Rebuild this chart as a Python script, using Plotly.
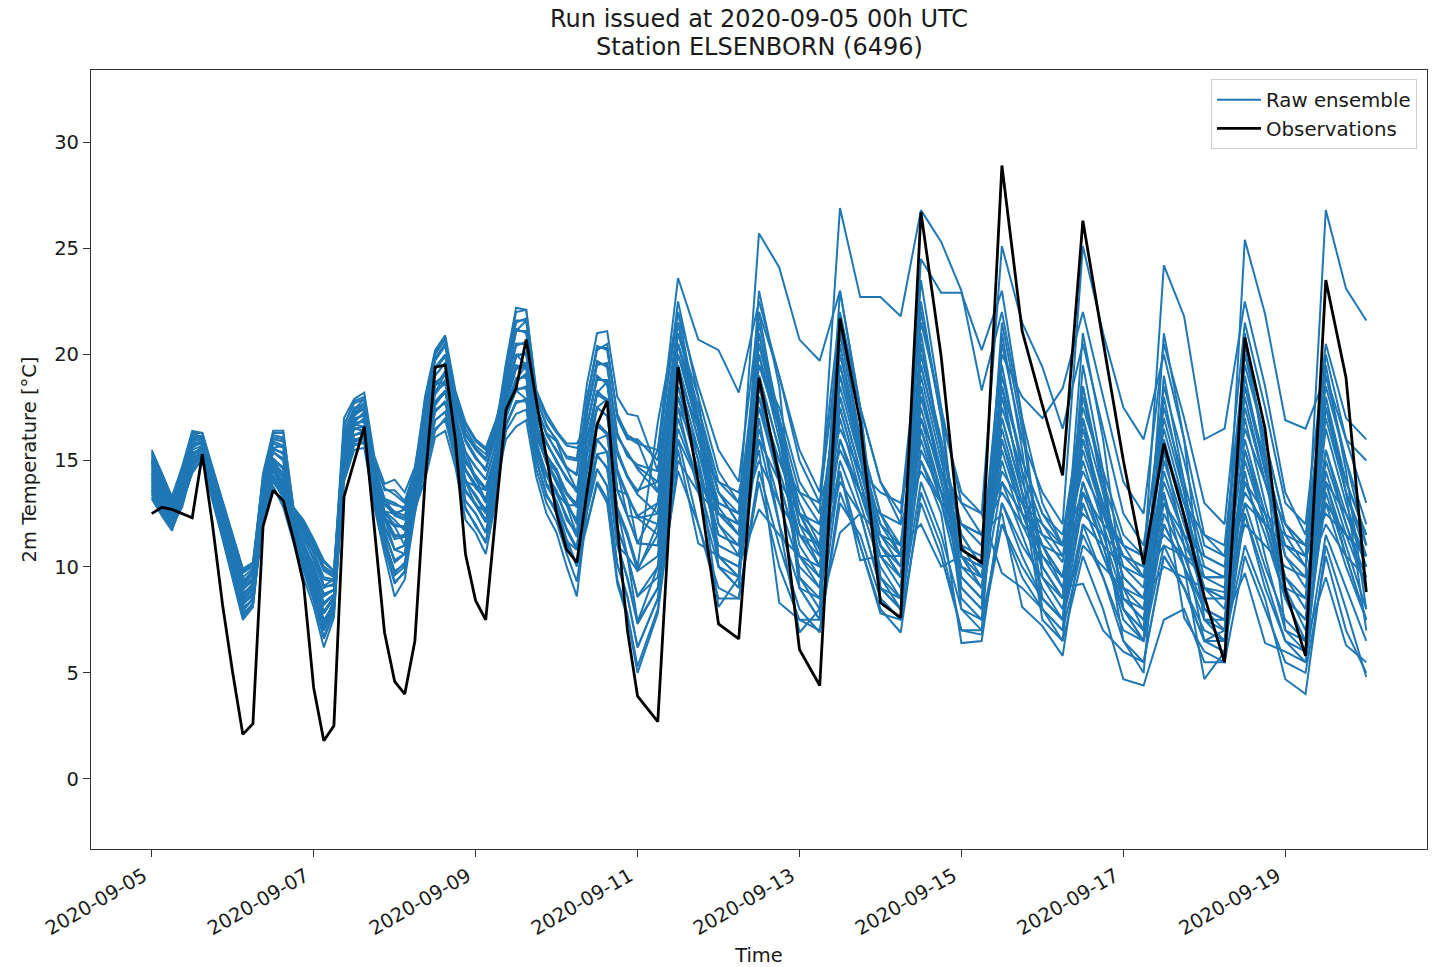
import pandas as pd
import plotly.graph_objects as go

RUN_START = pd.Timestamp("2020-09-05 00:00")

# Forecast lead times [h]: 3-hourly up to day 6, 6-hourly afterwards
lead_hours = list(range(0, 145, 3)) + list(range(150, 361, 6))

# Observed 2 m temperature at the station [°C]
observations = [
    12.5, 12.8, 12.7, 12.5, 12.3, 15.3, 12.0, 8.2, 5.0, 2.1, 2.6,
    11.9, 13.6, 13.1, 11.3, 9.2, 4.3, 1.8, 2.5,
    13.3, 15.0, 16.6, 11.8, 6.9, 4.6, 4.0, 6.5,
    14.0, 19.4, 19.5, 16.0, 10.6, 8.4, 7.5, 12.5,
    17.4, 18.4, 20.7, 17.8, 15.2, 12.5, 10.8, 10.2,
    13.5, 16.7, 17.8, 12.0, 7.0, 3.9,
    2.7,
    19.4, 14.0, 7.3, 6.6,
    18.9, 14.2, 6.1, 4.4,
    21.7, 16.8, 8.3, 7.6,
    26.7, 19.9, 10.8, 10.2,
    28.9, 21.1, 17.6, 14.3,
    26.3, 20.6, 15.0, 10.1,
    15.8, 12.4, 8.6, 5.5,
    20.8, 16.5, 8.9, 5.8,
    23.5, 18.9, 8.8,
]

# Raw ensemble members, 2 m temperature [°C]
member_01 = [
    14.4, 13.4, 12.7, 13.8, 15.4, 15.5, 13.9, 12.2, 10.7, 8.7, 9.2,
    13.4, 15.4, 15.0, 12.1, 11.1, 10.0, 8.7, 8.9,
    15.2, 16.5, 16.6, 13.8, 11.9, 10.8, 11.0, 13.4,
    16.1, 18.2, 18.7, 16.5, 14.5, 13.8, 13.1, 15.0,
    18.5, 20.5, 20.5, 17.1, 15.8, 15.0, 14.1, 13.6,
    15.9, 18.2, 17.9, 14.5, 13.4, 12.3,
    12.5,
    19.5, 16.0, 12.8, 11.5, 20.5, 17.0, 12.5, 10.8,
    19.0, 15.2, 12.0, 10.5, 20.0, 16.0, 11.5, 10.0,
    18.0, 14.0, 11.5, 10.2, 16.5, 12.8, 9.5, 8.5,
    15.0, 12.0, 9.0, 8.8, 18.5, 14.5, 10.5, 9.5,
    26.8, 23.1, 21.6,
]
member_02 = [
    13.7, 12.8, 12.0, 13.4, 14.8, 15.3, 13.4, 11.7, 9.6, 8.0, 8.5,
    12.7, 14.6, 13.9, 11.6, 10.3, 9.1, 7.4, 8.3,
    15.5, 16.7, 16.9, 14.0, 12.3, 11.4, 11.5, 13.6,
    16.8, 19.0, 19.6, 17.2, 15.4, 14.7, 14.1, 15.8,
    17.4, 18.8, 19.0, 15.8, 14.4, 13.5, 12.3, 11.5,
    13.9, 16.0, 15.4, 11.8, 10.5, 8.6,
    9.5,
    17.0, 14.0, 10.5, 10.0, 16.5, 13.0, 10.0, 9.0,
    16.0, 13.0, 10.0, 8.5, 15.0, 12.5, 6.4, 6.5,
    13.0, 11.0, 9.5, 8.0, 13.5, 11.0, 8.0, 7.0,
    12.5, 10.5, 8.0, 7.5, 14.0, 11.5, 8.5, 7.5,
    14.0, 11.0, 8.0,
]
member_03 = [
    15.0, 14.0, 12.8, 14.3, 16.0, 16.2, 14.4, 12.7, 11.2, 9.2, 9.8,
    13.7, 15.6, 15.3, 12.3, 11.4, 10.3, 9.1, 9.1,
    15.8, 16.9, 17.2, 14.2, 12.6, 11.9, 11.9, 13.8,
    15.7, 17.7, 18.2, 16.1, 14.0, 13.4, 12.6, 14.6,
    17.8, 19.4, 19.5, 16.3, 14.9, 14.0, 12.9, 12.2,
    17.3, 19.6, 19.5, 16.2, 15.3, 14.7,
    14.0,
    21.0, 18.0, 14.5, 13.0, 19.0, 15.5, 11.0, 9.5,
    17.5, 14.0, 11.0, 9.5, 18.0, 14.5, 10.5, 9.0,
    16.0, 13.0, 11.0, 9.5, 15.0, 12.0, 9.0, 8.0,
    14.0, 11.5, 8.5, 8.5, 25.4, 21.9, 16.9, 16.5,
    19.0, 15.0, 11.0,
]
member_04 = [
    13.2, 12.4, 11.7, 13.0, 14.4, 15.1, 13.1, 11.3, 9.4, 7.5, 8.1,
    12.5, 14.3, 13.5, 11.4, 10.0, 8.7, 7.0, 8.0,
    14.9, 16.2, 16.4, 13.5, 11.6, 10.3, 10.6, 13.2,
    16.4, 18.6, 19.1, 16.9, 15.0, 14.2, 13.6, 15.4,
    18.9, 21.1, 21.1, 17.5, 16.3, 15.4, 14.6, 14.4,
    17.9, 20.3, 20.3, 17.1, 16.2, 15.9,
    13.5,
    18.5, 15.0, 8.1, 9.5, 17.0, 12.0, 6.9, 8.0,
    11.6, 12.5, 9.0, 8.0, 16.5, 13.0, 9.0, 8.0,
    19.0, 15.0, 12.5, 11.0, 18.0, 14.0, 11.0, 9.5,
    17.0, 13.5, 10.0, 9.5, 17.0, 13.0, 9.5, 8.0,
    15.5, 12.0, 9.5,
]
member_05 = [
    15.5, 14.4, 13.3, 14.7, 16.4, 16.3, 14.7, 13.1, 11.6, 9.9, 10.2,
    14.2, 16.1, 16.0, 12.6, 11.9, 11.0, 9.9, 9.6,
    16.4, 17.4, 17.7, 14.7, 13.2, 13.0, 12.7, 14.3,
    17.2, 19.4, 20.0, 17.6, 15.9, 15.1, 14.6, 16.1,
    18.2, 20.0, 20.0, 16.7, 15.3, 14.5, 13.5, 12.9,
    15.3, 17.5, 17.1, 13.6, 12.4, 11.1,
    11.0,
    18.0, 14.5, 11.5, 11.0, 18.5, 14.5, 11.5, 10.0,
    18.0, 14.5, 11.5, 10.0, 19.0, 15.0, 11.0, 10.5,
    20.5, 16.0, 13.5, 12.0, 25.1, 21.0, 17.5, 16.0,
    20.0, 16.0, 11.5, 11.0, 20.0, 16.0, 12.0, 10.5,
    18.0, 14.0, 11.5,
]
member_06 = [
    14.1, 13.2, 12.3, 13.6, 15.2, 15.7, 13.7, 12.0, 10.3, 8.5, 8.9,
    13.2, 15.1, 14.6, 12.0, 10.9, 9.7, 8.3, 8.7,
    16.1, 17.2, 17.4, 14.5, 12.9, 12.5, 12.3, 14.0,
    17.6, 19.8, 20.5, 17.9, 16.3, 15.6, 15.1, 16.5,
    19.6, 22.2, 22.1, 18.3, 17.2, 16.4, 15.8, 15.8,
    16.6, 18.9, 18.7, 15.4, 14.3, 13.5,
    15.5,
    23.6, 20.7, 20.2, 18.2, 22.5, 19.0, 15.0, 13.0,
    21.0, 17.5, 14.0, 12.0, 21.5, 17.5, 13.0, 11.5,
    17.0, 13.5, 11.0, 9.0, 14.0, 11.5, 8.5, 7.5,
    13.0, 11.0, 9.5, 9.0, 16.0, 12.5, 9.0, 7.0,
    13.0, 10.0, 7.5,
]
member_07 = [
    14.6, 13.6, 12.7, 13.9, 15.8, 15.8, 14.1, 12.4, 10.7, 8.9, 9.4,
    13.0, 14.8, 14.2, 11.8, 10.6, 9.4, 7.8, 8.5,
    14.6, 16.0, 16.1, 13.3, 11.3, 9.7, 10.2, 12.9,
    15.3, 17.3, 17.8, 15.8, 13.6, 12.9, 12.1, 14.2,
    16.7, 17.7, 17.9, 15.0, 13.4, 12.6, 11.2, 10.0,
    12.6, 14.6, 13.8, 10.1, 8.6, 6.2,
    8.5,
    16.0, 14.0, 13.0, 12.5, 16.0, 14.0, 12.5, 12.0,
    15.5, 13.5, 12.5, 12.0, 14.5, 13.0, 12.0, 11.5,
    12.5, 8.1, 7.2, 5.8, 12.0, 11.0, 10.0, 9.5,
    11.0, 10.5, 9.5, 9.5, 13.0, 12.0, 11.0, 10.5,
    12.5, 11.5, 10.5,
]
member_08 = [
    13.9, 13.0, 12.2, 13.2, 15.0, 15.4, 13.6, 11.8, 10.1, 8.2, 8.7,
    12.2, 14.1, 13.2, 11.3, 9.8, 8.4, 6.6, 7.8,
    14.0, 15.5, 15.6, 12.8, 10.6, 8.6, 9.4, 12.5,
    14.9, 16.9, 17.3, 15.4, 13.1, 12.5, 11.6, 13.9,
    17.1, 18.3, 18.5, 15.4, 13.9, 13.0, 11.7, 10.8,
    14.6, 16.7, 16.2, 12.7, 11.4, 9.8,
    10.5,
    19.0, 16.5, 13.5, 12.0, 20.0, 16.0, 12.0, 11.0,
    20.0, 16.0, 12.5, 11.0, 18.5, 14.0, 10.0, 9.0,
    15.0, 12.0, 10.0, 8.5, 13.0, 10.5, 8.0, 7.0,
    12.0, 10.0, 8.0, 7.5, 9.7, 6.4, 6.0, 5.5,
    11.5, 9.0, 6.5,
]
member_09 = [
    14.8, 13.8, 13.0, 14.1, 15.8, 15.9, 14.2, 12.6, 10.9, 9.4, 9.6,
    13.9, 15.9, 15.7, 12.5, 11.7, 10.7, 9.5, 9.4,
    16.7, 17.7, 17.9, 15.0, 13.6, 13.6, 13.1, 14.5,
    17.2, 19.8, 20.5, 17.6, 15.9, 15.1, 14.6, 16.5,
    17.8, 20.0, 19.5, 16.7, 14.9, 14.5, 12.9, 12.9,
    13.2, 16.0, 16.2, 12.7, 10.5, 9.8,
    12.0,
    20.5, 17.0, 12.0, 10.5, 17.5, 14.0, 10.5, 9.0,
    17.0, 13.5, 10.5, 9.0, 17.0, 13.5, 9.5, 8.5,
    14.0, 11.5, 9.0, 7.5, 12.0, 9.5, 6.5, 5.5,
    10.5, 9.0, 6.5, 6.5, 12.5, 9.5, 6.5, 5.5,
    14.5, 11.5, 9.0,
]
member_10 = [
    15.3, 14.2, 13.1, 14.5, 16.2, 16.0, 14.5, 12.9, 11.4, 9.7, 10.0,
    14.4, 16.4, 16.4, 12.8, 12.2, 11.3, 10.3, 9.8,
    16.4, 17.2, 17.7, 14.5, 12.6, 12.5, 12.7, 14.0,
    15.7, 18.2, 19.1, 16.5, 14.0, 13.8, 13.6, 15.0,
    17.1, 18.8, 19.5, 15.8, 13.9, 13.5, 12.9, 11.5,
    13.2, 15.3, 14.6, 11.0, 9.5, 7.4,
    10.0,
    17.5, 15.5, 12.5, 11.5, 19.5, 17.5, 14.0, 12.5,
    26.9, 22.7, 22.7, 21.8, 26.8, 25.3, 23.0, 18.3,
    22.0, 17.0, 13.0, 11.0, 17.0, 13.5, 10.0, 9.0,
    16.0, 12.5, 9.0, 8.0, 15.0, 12.0, 9.0, 8.5,
    16.5, 13.0, 10.0,
]
member_11 = [
    13.4, 12.6, 11.9, 12.8, 14.6, 15.0, 13.3, 11.5, 9.6, 7.7, 8.3,
    12.0, 13.8, 12.8, 11.1, 9.5, 8.1, 6.2, 7.6,
    14.9, 16.5, 16.4, 13.8, 12.3, 10.8, 10.6, 13.4,
    16.8, 18.6, 18.7, 16.9, 15.4, 14.2, 13.1, 15.4,
    19.2, 21.6, 21.6, 17.9, 16.7, 15.9, 15.2, 15.1,
    18.6, 21.0, 21.1, 18.0, 17.2, 17.1,
    14.5,
    21.5, 16.5, 10.0, 9.0, 21.0, 16.5, 9.5, 8.0,
    21.5, 16.0, 9.0, 8.0, 21.0, 15.5, 8.5, 7.5,
    19.5, 14.5, 8.0, 7.0, 18.5, 14.0, 8.0, 6.5,
    18.0, 13.5, 7.5, 6.5, 19.0, 14.5, 11.0, 10.5,
    20.0, 16.0, 15.0,
]
member_12 = [
    14.3, 13.5, 12.5, 13.7, 15.3, 15.6, 13.9, 12.1, 10.5, 8.6, 9.1,
    13.4, 15.1, 14.2, 12.0, 11.1, 9.7, 8.7, 8.9,
    15.8, 16.7, 16.6, 14.2, 12.3, 11.9, 11.0, 13.6,
    15.3, 17.7, 18.2, 16.5, 14.0, 12.9, 12.6, 14.2,
    17.4, 18.3, 17.9, 15.4, 14.4, 13.0, 11.2, 10.8,
    15.3, 18.2, 18.7, 14.5, 12.4, 12.3,
    11.5,
    18.5, 15.0, 11.0, 10.5, 18.0, 15.0, 12.5, 11.5,
    19.5, 15.5, 11.5, 10.5, 19.5, 15.5, 11.5, 10.0,
    17.5, 14.5, 12.0, 10.5, 16.0, 12.5, 9.5, 8.5,
    13.5, 7.6, 6.0, 5.5, 15.5, 12.5, 9.5, 8.5,
    17.5, 13.5, 10.5,
]
member_13 = [
    14.5, 13.7, 12.6, 14.0, 15.6, 15.9, 14.0, 12.3, 10.8, 9.0, 9.3,
    13.9, 15.6, 15.7, 12.3, 11.4, 10.7, 9.1, 9.4,
    16.1, 17.4, 17.9, 14.7, 13.2, 12.5, 12.7, 14.5,
    18.0, 20.2, 20.9, 18.3, 16.8, 16.0, 15.6, 16.9,
    18.5, 21.1, 21.6, 17.5, 16.3, 15.9, 14.6, 13.6,
    14.6, 17.5, 17.9, 13.6, 13.4, 11.1,
    13.0,
    20.0, 16.5, 13.0, 12.5, 25.7, 24.1, 20.7, 19.7,
    23.0, 17.5, 9.5, 8.0, 22.5, 17.0, 9.5, 8.5,
    21.0, 15.5, 8.5, 7.5, 19.5, 14.5, 8.0, 6.5,
    19.0, 14.0, 7.5, 7.0, 21.0, 15.0, 7.0, 6.0,
    19.5, 14.5, 8.0,
]
member_14 = [
    14.0, 13.1, 12.4, 13.5, 15.1, 15.5, 13.8, 11.9, 10.2, 8.4, 9.0,
    12.8, 14.5, 13.7, 11.5, 10.2, 9.0, 7.2, 8.2,
    14.3, 15.7, 15.9, 13.0, 10.9, 9.2, 9.8, 12.7,
    14.1, 16.1, 16.4, 14.7, 12.2, 11.6, 10.6, 13.1,
    16.4, 17.2, 17.4, 14.6, 13.0, 12.1, 10.6, 9.3,
    12.6, 15.3, 15.4, 11.0, 10.5, 7.4,
    9.0,
    15.5, 11.1, 10.5, 10.0, 12.7, 11.5, 10.5, 10.0,
    14.0, 12.5, 11.5, 11.0, 12.0, 10.0, 10.5, 10.0,
    14.5, 13.0, 12.0, 11.0, 14.5, 12.5, 11.0, 10.5,
    15.5, 13.0, 11.5, 10.5, 16.5, 14.0, 12.0, 11.0,
    14.0, 12.5, 10.5,
]
member_15 = [
    13.6, 12.7, 12.1, 13.2, 14.8, 15.2, 13.5, 11.6, 9.8, 7.9, 8.5,
    13.0, 14.9, 14.4, 11.7, 10.6, 9.6, 7.9, 8.6,
    15.9, 16.8, 17.3, 14.1, 12.6, 12.2, 11.7, 13.9,
    16.0, 18.3, 18.6, 16.4, 14.6, 13.9, 13.0, 15.1,
    18.6, 20.4, 20.6, 17.0, 15.9, 14.9, 14.2, 13.5,
    17.2, 19.5, 19.6, 16.1, 15.4, 14.6,
    13.5,
    21.5, 17.0, 10.5, 9.5, 21.5, 17.0, 9.0, 7.5,
    21.0, 16.0, 8.5, 7.5, 20.5, 15.5, 8.0, 7.0,
    18.5, 13.5, 7.5, 6.5, 17.0, 12.0, 6.5, 5.0,
    15.5, 11.0, 6.5, 6.0, 14.5, 10.5, 7.0, 6.5,
    9.5, 6.3, 5.5,
]
member_16 = [
    15.1, 14.0, 13.0, 14.2, 16.0, 16.0, 14.3, 12.7, 11.1, 9.3, 9.8,
    13.5, 15.4, 15.1, 12.2, 11.0, 10.1, 8.6, 8.9,
    14.8, 16.2, 16.3, 13.6, 11.7, 10.2, 10.6, 13.1,
    14.5, 16.5, 16.9, 15.1, 12.7, 12.0, 11.1, 13.5,
    16.7, 17.8, 17.8, 15.0, 13.4, 12.5, 11.1, 10.1,
    11.9, 13.9, 13.0, 9.2, 7.6, 5.0,
    7.8,
    15.0, 13.5, 12.5, 12.0, 15.0, 13.0, 11.5, 11.0,
    14.5, 11.0, 7.8, 7.5, 15.5, 13.5, 12.0, 11.5,
    13.5, 12.0, 11.0, 10.5, 12.5, 11.5, 10.5, 10.0,
    11.5, 10.5, 10.0, 9.5, 13.5, 12.0, 11.0, 10.5,
    13.0, 11.5, 10.5,
]
member_17 = [
    13.8, 13.0, 12.1, 13.3, 14.9, 15.3, 13.5, 11.9, 10.0, 8.3, 8.8,
    13.2, 15.0, 14.7, 11.9, 10.8, 9.8, 8.2, 8.7,
    16.6, 17.8, 18.0, 14.9, 13.7, 13.4, 13.0, 14.6,
    17.1, 19.3, 19.9, 17.5, 16.0, 15.2, 14.5, 16.2,
    19.3, 21.5, 21.7, 18.0, 16.6, 16.0, 15.1, 15.0,
    16.7, 18.8, 18.8, 15.3, 14.2, 13.6,
    14.0,
    20.5, 17.5, 13.5, 12.0, 19.5, 16.5, 13.0, 11.0,
    18.5, 15.0, 11.0, 9.5, 17.5, 14.0, 10.5, 9.5,
    16.5, 13.0, 10.5, 9.5, 15.5, 12.5, 10.5, 10.0,
    24.2, 21.8, 16.0, 16.5, 22.5, 18.5, 13.5, 11.5,
    18.5, 15.0, 12.0,
]
member_18 = [
    14.9, 13.9, 12.9, 14.1, 15.9, 16.0, 14.2, 12.6, 11.0, 9.1, 9.7,
    14.1, 16.2, 16.1, 12.7, 12.0, 11.1, 10.0, 9.7,
    17.0, 17.9, 18.2, 15.2, 13.9, 14.1, 13.5, 14.7,
    17.7, 20.0, 20.7, 18.1, 16.5, 15.7, 15.3, 16.6,
    17.9, 19.5, 19.3, 16.1, 15.0, 14.1, 13.1, 12.0,
    14.4, 16.8, 16.3, 12.8, 11.6, 10.0,
    16.8,
    22.0, 18.5, 15.5, 14.0, 22.0, 19.0, 15.5, 13.5,
    22.0, 17.5, 14.0, 12.5, 22.0, 17.0, 13.5, 12.5,
    25.1, 21.5, 19.4, 16.5, 20.5, 16.5, 12.5, 11.0,
    17.5, 14.0, 10.5, 10.0, 18.0, 14.0, 11.0, 10.0,
    17.0, 13.5, 11.0,
]
member_19 = [
    13.5, 12.5, 11.8, 13.0, 14.5, 15.1, 13.2, 11.4, 9.7, 7.8, 8.2,
    12.4, 14.3, 13.6, 11.4, 10.0, 8.8, 7.0, 8.0,
    14.6, 15.9, 16.2, 13.2, 11.2, 9.8, 10.1, 12.9,
    15.6, 17.8, 18.3, 16.0, 14.1, 13.3, 12.5, 14.7,
    18.1, 19.9, 20.1, 16.6, 15.2, 14.4, 13.4, 13.0,
    18.0, 20.2, 20.5, 17.0, 16.0, 16.0,
    15.0,
    22.5, 18.0, 10.5, 9.5, 23.0, 18.5, 9.5, 8.5,
    23.0, 17.5, 9.0, 8.5, 23.5, 17.5, 9.0, 8.0,
    21.5, 16.5, 9.5, 8.5, 18.5, 13.5, 8.5, 7.5,
    13.5, 10.0, 4.7, 6.0, 12.5, 9.0, 6.5, 6.0,
    13.5, 10.5, 7.5,
]
member_20 = [
    15.2, 14.3, 13.2, 14.6, 16.3, 16.1, 14.6, 13.0, 11.5, 9.8, 10.1,
    14.0, 15.8, 15.6, 12.4, 11.6, 10.6, 9.4, 9.3,
    15.4, 16.8, 16.8, 14.1, 12.2, 11.3, 11.4, 13.5,
    16.5, 18.5, 19.2, 16.8, 14.9, 14.3, 13.7, 15.3,
    17.5, 18.9, 18.9, 15.9, 14.3, 13.6, 12.2, 11.6,
    16.0, 18.1, 17.8, 14.4, 13.3, 12.4,
    12.0,
    19.5, 16.0, 12.5, 11.5, 19.0, 15.5, 11.5, 10.5,
    17.5, 14.0, 10.5, 9.5, 16.0, 13.0, 10.0, 9.5,
    15.5, 12.5, 10.0, 8.5, 14.0, 11.0, 7.5, 6.5,
    12.0, 10.0, 7.5, 7.5, 15.5, 12.0, 8.5, 7.5,
    15.0, 12.0, 9.0,
]
member_21 = [
    14.4, 13.3, 12.4, 13.7, 15.5, 15.7, 13.8, 12.1, 10.4, 8.6, 9.2,
    13.0, 14.8, 14.2, 11.8, 10.6, 9.4, 7.8, 8.5,
    15.8, 16.9, 17.2, 14.2, 12.6, 11.9, 11.9, 13.8,
    15.3, 17.3, 17.8, 15.8, 13.6, 12.9, 12.1, 14.2,
    17.8, 19.4, 19.5, 16.3, 14.9, 14.0, 12.9, 12.2,
    13.9, 16.0, 15.4, 11.8, 10.5, 8.6,
    10.0,
    18.0, 15.5, 14.0, 13.5, 17.5, 15.0, 13.5, 13.0,
    16.5, 14.5, 13.5, 13.0, 17.0, 14.5, 13.0, 12.5,
    9.7, 9.0, 8.0, 7.0, 11.0, 10.0, 9.0, 8.5,
    10.0, 9.5, 9.0, 8.5, 12.0, 11.0, 10.0, 9.5,
    12.0, 10.5, 9.5,
]
member_22 = [
    14.2, 13.1, 12.4, 13.5, 15.3, 15.5, 13.8, 12.1, 10.4, 8.4, 9.0,
    13.4, 15.4, 15.0, 12.1, 11.1, 10.0, 8.7, 8.9,
    15.2, 16.5, 16.6, 13.8, 11.9, 10.8, 11.0, 13.4,
    16.8, 19.0, 19.6, 17.2, 15.4, 14.7, 14.1, 15.8,
    18.5, 20.5, 20.5, 17.1, 15.8, 15.0, 14.1, 13.6,
    15.3, 17.5, 17.1, 13.6, 12.4, 11.1,
    11.0,
    17.5, 13.5, 10.0, 9.5, 16.0, 12.0, 9.0, 8.5,
    15.0, 12.5, 9.0, 8.0, 14.0, 11.5, 8.0, 7.5,
    12.0, 10.0, 8.5, 7.5, 11.5, 9.5, 7.0, 6.5,
    11.0, 9.0, 7.0, 6.5, 11.0, 8.5, 4.7, 4.0,
    11.0, 8.0, 4.8,
]
member_23 = [
    14.7, 13.7, 12.6, 14.0, 15.7, 15.9, 14.0, 12.5, 10.8, 9.0, 9.5,
    13.2, 15.1, 14.6, 12.0, 10.9, 9.7, 8.3, 8.7,
    14.9, 16.2, 16.4, 13.5, 11.6, 10.3, 10.6, 13.2,
    14.9, 16.9, 17.3, 15.4, 13.1, 12.5, 11.6, 13.9,
    16.0, 16.6, 16.9, 14.2, 12.5, 11.6, 10.0, 8.6,
    12.6, 14.6, 13.8, 10.1, 8.6, 6.2,
    8.5,
    14.5, 12.0, 9.0, 8.5, 14.5, 11.0, 8.0, 6.9,
    13.5, 11.0, 8.0, 6.9, 13.5, 11.0, 7.0, 6.8,
    13.0, 10.5, 8.5, 7.5, 13.0, 10.5, 8.5, 8.0,
    14.5, 11.5, 9.0, 8.5, 17.5, 14.0, 10.5, 9.0,
    15.5, 12.5, 10.0,
]
member_24 = [
    13.6, 12.9, 12.1, 13.1, 14.7, 15.2, 13.3, 11.6, 9.9, 8.1, 8.4,
    12.3, 14.0, 13.3, 11.2, 9.9, 8.5, 6.7, 7.9,
    14.5, 15.9, 16.0, 13.2, 11.4, 9.6, 10.0, 12.8,
    15.2, 17.4, 17.7, 15.7, 13.5, 13.0, 12.2, 14.3,
    17.3, 18.7, 19.1, 15.7, 14.3, 13.4, 12.4, 11.4,
    16.5, 19.0, 18.6, 15.5, 14.2, 13.4,
    12.5,
    19.0, 15.5, 11.5, 11.0, 20.5, 16.5, 12.5, 10.5,
    19.5, 16.0, 12.5, 10.5, 18.0, 14.5, 11.0, 9.5,
    17.0, 13.5, 11.0, 9.5, 16.0, 13.0, 10.5, 9.5,
    16.5, 13.0, 9.5, 9.5, 18.5, 15.0, 11.5, 10.0,
    17.5, 14.0, 11.5,
]
member_25 = [
    15.4, 14.4, 13.2, 14.6, 16.3, 16.3, 14.6, 13.0, 11.5, 9.9, 10.1,
    14.3, 16.3, 16.3, 12.8, 12.1, 11.2, 10.2, 9.8,
    15.9, 17.0, 17.1, 14.3, 12.5, 12.0, 11.8, 13.9,
    16.2, 18.1, 18.8, 16.4, 14.6, 13.7, 13.2, 14.9,
    17.0, 18.4, 18.4, 15.5, 13.8, 13.1, 11.8, 10.9,
    14.7, 16.6, 16.3, 12.6, 11.5, 9.9,
    11.5,
    20.0, 17.0, 13.5, 12.5, 21.0, 17.0, 13.5, 12.0,
    19.0, 15.5, 12.0, 11.0, 19.5, 15.5, 12.0, 11.0,
    18.5, 15.0, 12.5, 11.5, 17.5, 14.5, 11.5, 10.5,
    18.5, 15.0, 11.0, 10.5, 19.5, 16.0, 12.0, 11.0,
    19.0, 16.0, 13.0,
]
member_26 = [
    13.3, 12.5, 11.8, 12.9, 14.5, 15.0, 13.2, 11.4, 9.5, 7.6, 8.2,
    12.6, 14.7, 14.0, 11.5, 10.4, 9.2, 7.5, 8.2,
    16.0, 17.1, 17.5, 14.6, 13.0, 12.4, 12.2, 14.1,
    17.5, 19.7, 20.4, 18.0, 16.2, 15.5, 15.0, 16.4,
    18.3, 19.9, 20.1, 16.8, 15.2, 14.6, 13.4, 12.8,
    17.4, 19.7, 19.4, 16.3, 15.2, 14.8,
    14.5,
    21.0, 17.5, 14.0, 13.0, 20.0, 16.5, 12.0, 10.0,
    18.0, 14.5, 11.0, 10.0, 18.5, 14.5, 10.5, 9.0,
    16.0, 12.5, 10.5, 9.0, 9.2, 7.0, 6.0, 5.5,
    10.5, 9.0, 6.5, 7.0, 13.0, 10.0, 7.5, 6.5,
    14.0, 10.5, 7.5,
]
member_27 = [
    14.9, 13.9, 12.9, 14.0, 15.7, 15.8, 14.3, 12.5, 11.0, 9.1, 9.7,
    13.8, 15.5, 15.4, 12.4, 11.3, 10.4, 9.0, 9.2,
    15.6, 16.6, 17.0, 13.9, 12.4, 11.5, 11.4, 13.7,
    16.3, 18.7, 19.0, 16.8, 15.1, 14.1, 13.7, 15.3,
    19.5, 22.0, 22.1, 18.2, 17.0, 16.3, 15.7, 15.6,
    16.0, 18.3, 17.8, 14.6, 13.3, 12.4,
    13.0,
    20.5, 16.5, 12.0, 11.0, 18.0, 14.0, 10.5, 9.5,
    16.0, 13.5, 11.0, 9.5, 16.5, 13.5, 10.5, 10.0,
    20.0, 18.0, 17.0, 18.4, 22.0, 18.0, 14.0, 12.5,
    20.5, 17.0, 13.0, 12.0, 21.5, 17.5, 13.0, 12.0,
    20.5, 17.0, 16.0,
]
member_28 = [
    13.8, 13.1, 12.3, 13.4, 15.1, 15.3, 13.7, 11.9, 10.0, 8.3, 8.6,
    12.6, 14.2, 13.4, 11.5, 10.1, 8.6, 7.1, 8.1,
    14.2, 15.8, 15.8, 13.1, 11.0, 9.3, 9.7, 12.6,
    14.6, 16.4, 17.0, 15.0, 12.8, 11.9, 11.2, 13.4,
    16.6, 17.8, 17.8, 15.1, 13.3, 12.7, 11.3, 10.1,
    13.1, 15.2, 14.7, 11.1, 9.4, 7.3,
    9.0,
    16.5, 14.0, 12.5, 12.0, 15.5, 8.3, 7.5, 7.5,
    14.5, 10.3, 10.5, 10.5, 15.0, 13.0, 12.0, 11.5,
    14.0, 12.5, 11.5, 11.0, 13.5, 12.0, 11.0, 10.5,
    13.0, 11.5, 10.5, 10.0, 14.0, 12.5, 11.5, 11.0,
    13.0, 11.5, 10.5,
]
member_29 = [
    15.0, 14.1, 13.1, 14.4, 16.1, 16.1, 14.4, 12.8, 11.3, 9.5, 9.9,
    14.1, 16.0, 15.9, 12.7, 11.8, 10.9, 9.8, 9.5,
    16.2, 17.3, 17.5, 14.6, 13.0, 12.6, 12.4, 14.1,
    17.9, 20.1, 20.8, 18.2, 16.7, 15.9, 15.5, 16.8,
    19.0, 21.2, 21.0, 17.6, 16.2, 15.5, 14.7, 14.3,
    17.8, 20.4, 20.2, 17.2, 16.1, 15.8,
    15.5,
    22.0, 17.0, 10.0, 9.0, 22.0, 16.5, 9.0, 7.5,
    20.5, 15.5, 9.5, 8.5, 24.5, 22.9, 22.9, 20.2,
    23.0, 17.0, 10.0, 8.5, 21.0, 16.0, 9.0, 7.0,
    21.0, 16.0, 8.0, 7.0, 20.5, 15.5, 8.5, 6.5,
    18.0, 13.5, 7.0,
]
member_30 = [
    14.2, 13.5, 12.6, 13.8, 15.3, 15.6, 14.0, 12.3, 10.6, 8.8, 9.0,
    12.8, 14.5, 13.8, 11.7, 10.2, 9.0, 7.3, 8.4,
    16.3, 17.5, 17.6, 14.8, 13.1, 12.9, 12.8, 14.2,
    15.8, 17.6, 18.3, 16.0, 14.1, 13.3, 12.7, 14.5,
    17.7, 19.3, 19.6, 16.2, 15.0, 13.9, 13.0, 12.1,
    12.0, 14.0, 13.2, 9.4, 7.8, 5.3,
    8.0,
    16.0, 12.0, 8.5, 8.5, 14.0, 10.0, 7.5, 7.0,
    13.0, 11.5, 8.5, 7.5, 13.0, 10.5, 7.0, 7.0,
    12.0, 9.5, 8.0, 6.5, 10.5, 8.0, 4.7, 4.4,
    7.5, 8.0, 5.5, 5.5, 10.5, 8.0, 5.5, 5.0,
    10.5, 7.0, 5.0,
]

ensemble_members = [
    member_01, member_02, member_03, member_04, member_05, member_06,
    member_07, member_08, member_09, member_10, member_11, member_12,
    member_13, member_14, member_15, member_16, member_17, member_18,
    member_19, member_20, member_21, member_22, member_23, member_24,
    member_25, member_26, member_27, member_28, member_29, member_30,
]

times = [RUN_START + pd.Timedelta(hours=h) for h in lead_hours]

for name, series in [("observations", observations)] + [
    (f"member_{i + 1:02d}", m) for i, m in enumerate(ensemble_members)
]:
    if len(series) != len(times):
        raise ValueError(f"{name}: {len(series)} values for {len(times)} times")

ENS_COLOR = "#1f77b4"
TEXT_COLOR = "#1a1a1a"
FONT = "DejaVu Sans"
FONT_SIZE = 19.5

fig = go.Figure()

for i, member in enumerate(ensemble_members):
    fig.add_trace(go.Scatter(
        x=times, y=member, mode="lines",
        line=dict(color=ENS_COLOR, width=2),
        name="Raw ensemble",
        showlegend=(i == 0), hoverinfo="skip",
    ))

fig.add_trace(go.Scatter(
    x=times, y=observations, mode="lines",
    line=dict(color="black", width=2.8),
    name="Observations", hoverinfo="skip",
))

axis_common = dict(
    showline=True, mirror=True, linecolor="#333333", linewidth=1.2,
    ticks="outside", ticklen=7, tickwidth=1.2, tickcolor="#333333",
    showgrid=False, zeroline=False, automargin=False,
    tickfont=dict(family=FONT, size=FONT_SIZE, color=TEXT_COLOR),
)

fig.update_layout(
    width=1438, height=967,
    margin=dict(l=91, r=11, t=70, b=118),
    paper_bgcolor="white", plot_bgcolor="white",
    font=dict(family=FONT, size=FONT_SIZE, color=TEXT_COLOR),
    xaxis=dict(
        axis_common,
        type="date",
        range=["2020-09-04 06:00", "2020-09-20 18:00"],
        tick0="2020-09-05", dtick=2 * 24 * 3600 * 1000,
        tickformat="%Y-%m-%d", tickangle=-30,
        ticklabelshift=-8,
        title=dict(text="Time", standoff=12,
                   font=dict(family=FONT, size=FONT_SIZE, color=TEXT_COLOR)),
    ),
    yaxis=dict(
        axis_common,
        range=[-3.3, 33.4], tick0=0, dtick=5,
        title=dict(text="2m Temperature [°C]", standoff=12,
                   font=dict(family=FONT, size=FONT_SIZE, color=TEXT_COLOR)),
    ),
    legend=dict(
        x=0.9925, xanchor="right", y=0.988, yanchor="top",
        bgcolor="rgba(255,255,255,0.85)", bordercolor="#cccccc", borderwidth=1,
        font=dict(family=FONT, size=19.8, color=TEXT_COLOR),
        itemwidth=44, tracegroupgap=0,
    ),
    annotations=[
        dict(text="Run issued at 2020-09-05 00h UTC", xref="paper", yref="paper",
             x=0.5, y=1.0655, xanchor="center", yanchor="middle", showarrow=False,
             font=dict(family=FONT, size=24, color=TEXT_COLOR)),
        dict(text="Station ELSENBORN (6496)", xref="paper", yref="paper",
             x=0.5, y=1.0295, xanchor="center", yanchor="middle", showarrow=False,
             font=dict(family=FONT, size=24, color=TEXT_COLOR)),
    ],
)

fig.write_html("out.html", config={"displayModeBar": False})
